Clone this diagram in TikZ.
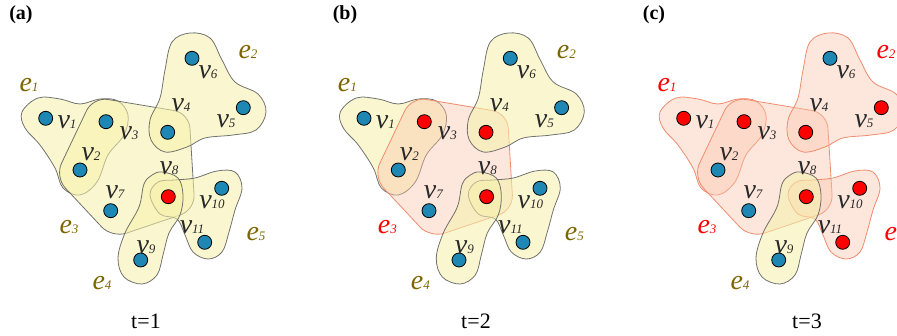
\documentclass[tikz,border=0pt]{standalone}
\usepackage{fontspec}
\setmainfont{Liberation Serif}
\definecolor{hyfill}{RGB}{246,241,170}
\definecolor{pkfill}{RGB}{250,195,170}
\definecolor{hyline}{RGB}{90,90,90}
\definecolor{pkline}{RGB}{240,140,110}
\definecolor{nblue}{RGB}{30,135,180}
\definecolor{olivelab}{RGB}{125,102,0}
\definecolor{vlabcol}{RGB}{40,40,40}
\newcommand\vlab[1]{{\fontsize{28}{28}\selectfont\itshape v}{\fontsize{13}{13}\selectfont\itshape #1}}
\newcommand\elab[1]{{\fontsize{28}{28}\selectfont\itshape e}{\fontsize{13}{13}\selectfont\itshape #1}}
\tikzset{
 dotb/.style={circle, draw=black, line width=0.8pt, fill=nblue, minimum size=14pt, inner sep=0pt},
 dotr/.style={dotb, fill=red},
 yel/.style={fill=hyfill, fill opacity=0.55, draw=hyline, draw opacity=0.85, line width=0.8pt},
 pnk/.style={fill=pkfill, fill opacity=0.4, draw=pkline, line width=0.8pt},
 elo/.style={inner sep=0pt, text=olivelab},
 elr/.style={inner sep=0pt, text=red},
 vl/.style={inner sep=0pt, text=vlabcol},
 n1/.style=dotb, n2/.style=dotb, n3/.style=dotb, n4/.style=dotb, n5/.style=dotb,
 n6/.style=dotb, n7/.style=dotb, n8/.style=dotr, n9/.style=dotb, n10/.style=dotb, n11/.style=dotb,
 h1/.style=yel, h2/.style=yel, h3/.style=yel, h4/.style=yel, h5/.style=yel,
 l1/.style=elo, l2/.style=elo, l3/.style=elo, l4/.style=elo, l5/.style=elo,
 ptitle/.style={inner sep=0pt, font=\fontsize{20}{20}\selectfont\bfseries},
 tlab/.style={inner sep=0pt, font=\fontsize{22}{22}\selectfont},
}
\newcommand\hgraph[1]{%
 % e1
 \path[h1] plot[smooth cycle, tension=0.6] coordinates {(22,112) (38,98) (60,99) (80,104) (100,99) (118,101) (128,115) (124,135) (108,155) (97,182) (80,195) (63,188) (55,168) (40,145) (25,128)};
 % e3
 \path[h3, rounded corners=15pt] (93,97) -- (189,113) -- (195,210) -- (112,238) -- (55,177) -- cycle;
 % e2
 \path[h2] plot[smooth cycle, tension=0.6] coordinates {(150,120) (151,140) (165,152) (187,147) (205,138) (233,135) (256,130) (266,112) (258,94) (235,82) (222,60) (210,38) (190,33) (172,42) (165,70) (160,98)};
 % e5
 \path[h5] plot[smooth cycle, tension=0.6] coordinates {(150,195) (158,182) (175,180) (195,178) (217,171) (235,172) (242,188) (235,210) (229,232) (222,252) (208,259) (193,252) (185,235) (177,219) (160,214)};
 % e4
 \path[h4] plot[smooth cycle, tension=0.6] coordinates {(162,172) (178,178) (183,195) (180,215) (169,233) (163,255) (157,275) (142,284) (124,277) (118,258) (125,233) (139,207) (144,184) (152,175)};
 \node[n1] (#1v1) at (45.7,118.3) {};
 \node[n2] (#1v2) at (80,170) {};
 \node[n3] (#1v3) at (106,121.7) {};
 \node[n4] (#1v4) at (167.7,132.3) {};
 \node[n5] (#1v5) at (243.3,107.7) {};
 \node[n6] (#1v6) at (192,58.3) {};
 \node[n7] (#1v7) at (110.7,210.7) {};
 \node[n8] (#1v8) at (168.3,196.7) {};
 \node[n9] (#1v9) at (140.7,260) {};
 \node[n10] (#1v10) at (221.7,188.3) {};
 \node[n11] (#1v11) at (204.7,242.3) {};
 \node[vl] (#1t1) at (67,122) {\vlab{1}};
 \node[vl] (#1t2) at (91,154) {\vlab{2}};
 \node[vl] (#1t3) at (129,133) {\vlab{3}};
 \node[vl] (#1t4) at (181,105) {\vlab{4}};
 \node[vl] (#1t5) at (226,121) {\vlab{5}};
 \node[vl] (#1t6) at (208,72) {\vlab{6}};
 \node[vl] (#1t7) at (115,192) {\vlab{7}};
 \node[vl] (#1t8) at (169,168) {\vlab{8}};
 \node[vl] (#1t9) at (146,247) {\vlab{9}};
 \node[vl] (#1t10) at (212,202) {\vlab{10}};
 \node[vl] (#1t11) at (192,227) {\vlab{11}};
 \node[l1] (#1e1) at (29,85) {\elab{1}};
 \node[l2] (#1e2) at (248,52) {\elab{2}};
 \node[l3] (#1e3) at (69,227) {\elab{3}};
 \node[l4] (#1e4) at (102,283) {\elab{4}};
 \node[l5] (#1e5) at (256,234) {\elab{5}};
}
\begin{document}
\begin{tikzpicture}[x=1pt, y=-1pt]
 \useasboundingbox (0,0) rectangle (897,336);
 \clip (0,0) rectangle (897,336);
 \begin{scope}
  \hgraph{a}
 \end{scope}
 \begin{scope}[xshift=318.3pt, n3/.style=dotr, n4/.style=dotr, n8/.style=dotr, h3/.style=pnk, l3/.style=elr]
  \hgraph{b}
 \end{scope}
 \begin{scope}[xshift=638pt, n1/.style=dotr, n3/.style=dotr, n4/.style=dotr, n5/.style=dotr, n8/.style=dotr, n10/.style=dotr, n11/.style=dotr,
   h1/.style=pnk, h2/.style=pnk, h3/.style=pnk, h5/.style=pnk, l1/.style=elr, l2/.style=elr, l3/.style=elr, l5/.style=elr]
  \hgraph{c}
 \end{scope}
 \node[ptitle] (ta) at (21,15) {(a)};
 \node[ptitle] (tb) at (345,15) {(b)};
 \node[ptitle] (tc) at (654,15) {(c)};
 \node[tlab] (sa) at (146,321) {t=1};
 \node[tlab] (sb) at (476,321) {t=2};
 \node[tlab] (sc) at (807,321) {t=3};
\end{tikzpicture}
\end{document}
